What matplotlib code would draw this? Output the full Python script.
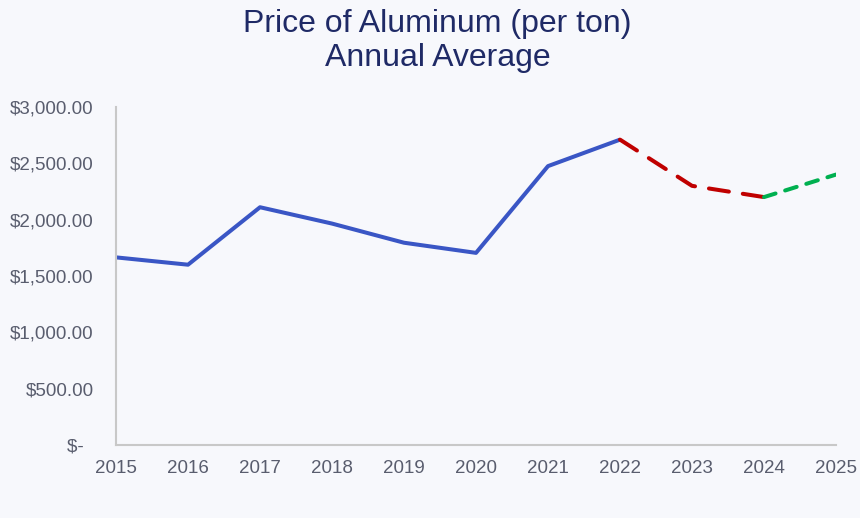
import matplotlib
matplotlib.use("Agg")
from matplotlib import pyplot as plt
from matplotlib.ticker import FuncFormatter

years = [2015, 2016, 2017, 2018, 2019, 2020, 2021, 2022, 2023, 2024, 2025]
actual_years = [2015, 2016, 2017, 2018, 2019, 2020, 2021, 2022]
actual_price = [1665, 1600, 2110, 1965, 1795, 1705, 2475, 2710]
forecast_years = [2022, 2023, 2024]
forecast_price = [2710, 2300, 2200]
outlook_years = [2024, 2025]
outlook_price = [2200, 2400]

bg = "#F7F8FC"
grey_text = "#595D6E"

plt.rcParams['font.family'] = ['Liberation Sans', 'DejaVu Sans']

fig = plt.figure(figsize=(8.6, 5.18), dpi=100, facecolor=bg)
ax = fig.add_axes([0.1349, 0.141, 0.8372, 0.6525], facecolor=bg)

ax.plot(actual_years, actual_price, color="#3A56C5", linewidth=2.9, solid_capstyle="butt")
ax.plot(forecast_years, forecast_price, color="#C00000", linewidth=2.9,
        dashes=(5, 3.5), dash_capstyle="round")
ax.plot(outlook_years, outlook_price, color="#00B050", linewidth=2.9,
        dashes=(3, 2.5), dash_capstyle="round")

ax.set_xlim(2015, 2025)
ax.set_ylim(0, 3000)
ax.set_xticks(years)
ax.set_yticks([0, 500, 1000, 1500, 2000, 2500, 3000])


def money(v, pos):
    # accounting style: zero shown as a dash, padded like Excel
    if v == 0:
        return "$-  "
    return "${:,.2f}".format(v)


ax.yaxis.set_major_formatter(FuncFormatter(money))
ax.tick_params(axis="both", length=0, labelsize=13.5, labelcolor=grey_text)
ax.tick_params(axis="x", pad=11)
ax.tick_params(axis="y", pad=16)

for side in ["top", "right"]:
    ax.spines[side].set_visible(False)
for side in ["left", "bottom"]:
    ax.spines[side].set_color("#C8C8C8")
    ax.spines[side].set_linewidth(1.5)

fig.text(0.509, 0.921, "Price of Aluminum (per ton)\nAnnual Average", ha="center", va="center",
         fontsize=23, color="#1F2A66", linespacing=1.17)

fig.savefig("out.png", dpi=100, facecolor=bg)
